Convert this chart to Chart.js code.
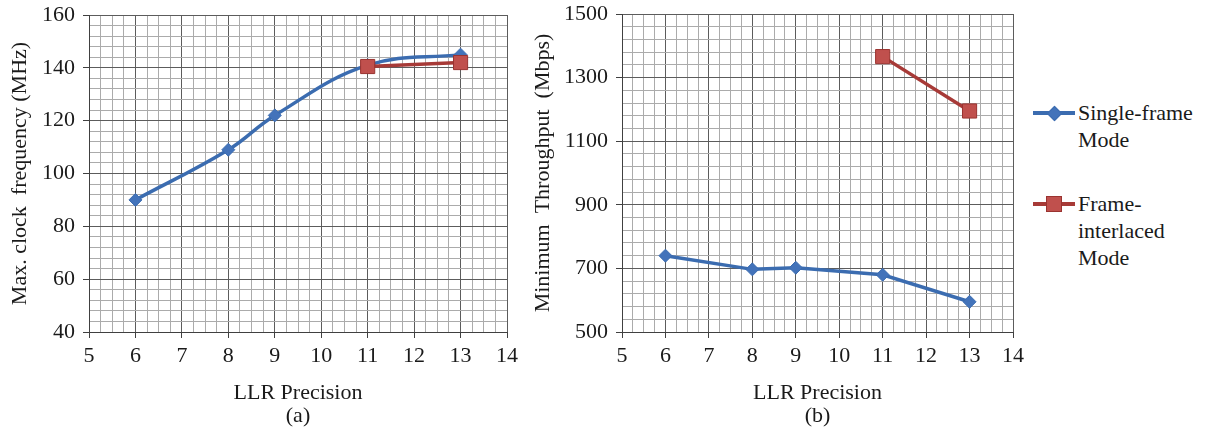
<!DOCTYPE html>
<html>
<head>
<meta charset="utf-8">
<script src="https://cdn.jsdelivr.net/npm/chart.js@4.4.1/dist/chart.umd.min.js"></script>
<style>
  body { margin: 0; background: #fff; width: 1212px; height: 432px; overflow: hidden; position: relative; font-family: 'Liberation Serif', 'Times New Roman', serif; color: #1a1a1a; }
  #wrapA { position: absolute; left: 0; top: 0; width: 520px; height: 432px; }
  #wrapB { position: absolute; left: 520px; top: 0; width: 510px; height: 432px; }
  #legend { position: absolute; left: 1030px; top: 0; width: 182px; height: 432px; }
  .item { position: absolute; left: 0; }
  .ln { position: absolute; left: 3px; width: 42px; height: 4px; }
  .mk { position: absolute; }
  .txt { position: absolute; left: 48px; top: 0; font-size: 22px; line-height: 27px; white-space: nowrap; }
</style>
</head>
<body>
<div id="wrapA"><canvas id="chartA"></canvas></div>
<div id="wrapB"><canvas id="chartB"></canvas></div>
<div id="legend"></div>
<script>
// LLR precision values (x) for each series
const singlePrecision = [6, 8, 9, 11, 13];
const interlacedPrecision = [11, 13];

// (a) max clock frequency, MHz
const singleFreq = [90, 109, 122, 141, 145];
const interlacedFreq = [140.5, 142];

// (b) minimum throughput, Mbps
const singleThroughput = [740, 697, 702, 680, 595];
const interlacedThroughput = [1366, 1195];

const seriesNames = ['Single-frame Mode', 'Frame-interlaced Mode'];
const legendLines = [['Single-frame', 'Mode'], ['Frame-', 'interlaced', 'Mode']];

const blueLine = '#3b6cb0';
const blueFill = '#4373ba';
const redLine = '#a73a37';
const redFill = '#c0504d';
const fontFamily = "'Liberation Serif', 'Times New Roman', serif";
const textColor = '#1a1a1a';

function toPoints(xs, ys) {
    return xs.map((x, i) => ({ x: x, y: ys[i] }));
}

function isMultiple(v, base, step) {
    const k = (v - base) / step;
    return Math.abs(k - Math.round(k)) < 1e-6;
}

// builds x/y scales with major + minor grid lines
function buildScales(yMin, yMax, yMinor, yMajor, yTitle, xTitle, yWidth, yTitlePad) {
    return {
        x: {
            type: 'linear',
            min: 5,
            max: 14,
            afterFit: s => { s.height = 100; s.paddingLeft = 0; s.paddingRight = 0; },
            ticks: {
                stepSize: 0.25,
                autoSkip: false,
                maxRotation: 0,
                padding: 5,
                color: textColor,
                font: { family: fontFamily, size: 22 },
                callback: v => isMultiple(v, 5, 1) ? Math.round(v) : ''
            },
            grid: {
                lineWidth: 1,
                tickLength: 6,
                color: c => isMultiple(c.tick.value, 5, 1) ? '#5c5c5c' : '#ababab',
                tickColor: c => isMultiple(c.tick.value, 5, 1) ? '#404040' : 'rgba(0,0,0,0)'
            },
            border: { color: '#404040', width: 1 },
            title: {
                display: true,
                text: xTitle,
                color: textColor,
                font: { family: fontFamily, size: 22, lineHeight: 1.05 },
                padding: { top: 0, bottom: 4 }
            }
        },
        y: {
            type: 'linear',
            min: yMin,
            max: yMax,
            afterFit: s => { s.width = yWidth; s.paddingTop = 0; s.paddingBottom = 0; },
            ticks: {
                stepSize: yMinor,
                autoSkip: false,
                padding: 8,
                color: textColor,
                font: { family: fontFamily, size: 22 },
                callback: v => isMultiple(v, yMin, yMajor) ? Math.round(v) : ''
            },
            grid: {
                lineWidth: 1,
                tickLength: 6,
                color: c => isMultiple(c.tick.value, yMin, yMajor) ? '#5c5c5c' : '#ababab',
                tickColor: c => isMultiple(c.tick.value, yMin, yMajor) ? '#404040' : 'rgba(0,0,0,0)'
            },
            border: { color: '#404040', width: 1 },
            title: {
                display: true,
                text: yTitle,
                color: textColor,
                font: { family: fontFamily, size: 22, lineHeight: 1.2 },
                padding: { top: yTitlePad, bottom: 0 }
            }
        }
    };
}

function buildDatasets(singleYs, interlacedYs, smooth) {
    return [
        {
            label: seriesNames[0],
            data: toPoints(singlePrecision, singleYs),
            borderColor: blueLine,
            backgroundColor: blueFill,
            borderWidth: 3.5,
            tension: smooth ? 0.4 : 0,
            pointStyle: 'rectRot',
            pointRadius: 6.5,
            pointBackgroundColor: blueFill,
            pointBorderColor: blueLine,
            pointBorderWidth: 1,
            order: 2
        },
        {
            label: seriesNames[1],
            data: toPoints(interlacedPrecision, interlacedYs),
            borderColor: redLine,
            backgroundColor: redFill,
            borderWidth: 3.5,
            tension: 0,
            pointStyle: 'rect',
            pointRadius: 10,
            pointBackgroundColor: redFill,
            pointBorderColor: '#9a3330',
            pointBorderWidth: 1,
            order: 1
        }
    ];
}

function commonOptions(scales, padding) {
    return {
        responsive: true,
        maintainAspectRatio: false,
        animation: false,
        layout: { padding: padding },
        plugins: { legend: { display: false }, tooltip: { enabled: false } },
        scales: scales
    };
}

new Chart(document.getElementById('chartA').getContext('2d'), {
    type: 'line',
    data: { datasets: buildDatasets(singleFreq, interlacedFreq, true) },
    options: commonOptions(
        buildScales(40, 160, 4, 20, 'Max. clock  frequency (MHz)', ['LLR Precision', '(a)'], 89, 7),
        { left: 0, top: 15, right: 13, bottom: 0 }
    )
});

new Chart(document.getElementById('chartB').getContext('2d'), {
    type: 'line',
    data: { datasets: buildDatasets(singleThroughput, interlacedThroughput, false) },
    options: commonOptions(
        buildScales(500, 1500, 40, 200, 'Minimum  Throughput  (Mbps)', ['LLR Precision', '(b)'], 102, 10),
        { left: 0, top: 14, right: 17, bottom: 0 }
    )
});

// legend built from the series names
const legend = document.getElementById('legend');
const legendTops = [99, 190];
const legendStyles = [
    { line: blueLine, fill: blueFill, border: blueLine, shape: 'diamond' },
    { line: redLine, fill: redFill, border: '#9a3330', shape: 'square' }
];
legendLines.forEach((lines, i) => {
    const st = legendStyles[i];
    const item = document.createElement('div');
    item.className = 'item';
    item.style.top = legendTops[i] + 'px';
    item.title = seriesNames[i];
    const ln = document.createElement('div');
    ln.className = 'ln';
    ln.style.top = '12px';
    ln.style.background = st.line;
    item.appendChild(ln);
    const mk = document.createElement('div');
    mk.className = 'mk';
    if (st.shape === 'diamond') {
        mk.style.cssText = 'left:19px;top:9px;width:9px;height:9px;transform:rotate(45deg);background:' + st.fill + ';border:1px solid ' + st.border + ';';
    } else {
        mk.style.cssText = 'left:16px;top:6px;width:14px;height:14px;background:' + st.fill + ';border:1px solid ' + st.border + ';';
    }
    item.appendChild(mk);
    const txt = document.createElement('div');
    txt.className = 'txt';
    txt.innerHTML = lines.join('<br>');
    item.appendChild(txt);
    legend.appendChild(item);
});
</script>
</body>
</html>
